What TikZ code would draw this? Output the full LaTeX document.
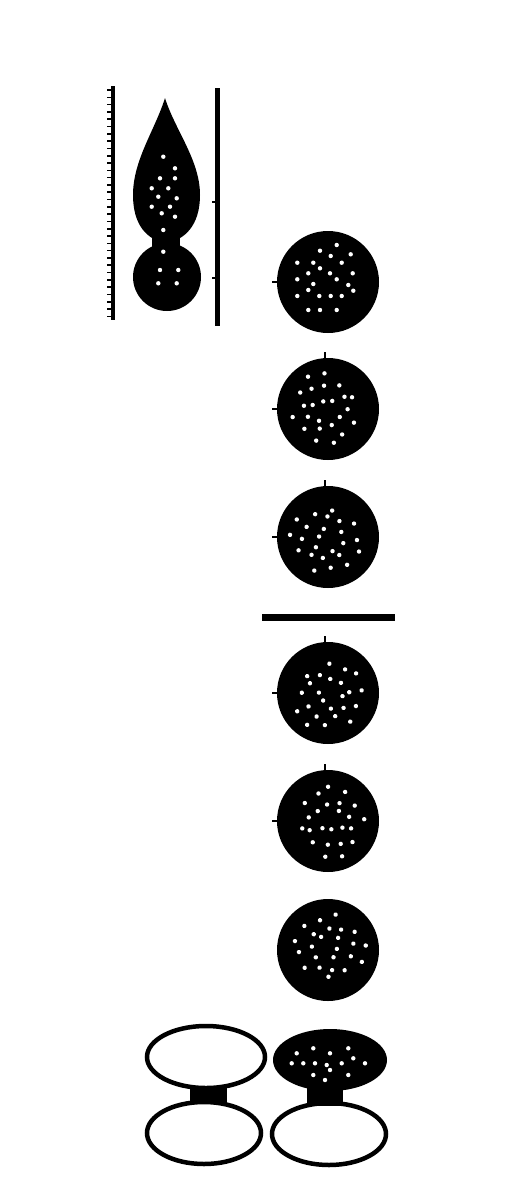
\documentclass[tikz,border=0pt]{standalone}
\usetikzlibrary{calc}
\begin{document}
\begin{tikzpicture}[x=1pt,y=-1pt]
\useasboundingbox[fill=white] (0,0) rectangle (527,1200);
\tikzset{
  bead/.style={circle,fill=black,minimum size=102pt,inner sep=0pt},
  wdot/.style={fill=white},
  bar/.style={line width=4pt},
  nub/.style={line width=2pt},
  ring/.style={draw=black,line width=4.5pt}
}
\def\dotlist{8.7/-37, -8/-31.3, 2.7/-26, 22.7/-27.7, -30.7/-19.3, -14.7/-19.3, -8/-13.7, 13.7/-19.3, -19.7/-8.7, 2/-8.7, 8.7/-2.7, 24.7/-8.7, -30.7/-2.7, -14.7/2, -19.7/8, 20.3/3, 25.3/8.7, -30.7/14, -8.7/14, 2.7/14, 13.7/14, -19.7/28, -8/28, 8.7/28}
% beads
\foreach \n/\cy/\ang in {c1/282/0, c2/409/45, c3/537/100, c4/693/160, c5/821/215, c6/950/290} {
  \node[bead] (\n) at (328,\cy) {};
  \begin{scope}[shift={(328,\cy)},rotate=\ang]
    \foreach \dx/\dy in \dotlist { \fill[wdot] (\dx,\dy) circle (2.2pt); }
  \end{scope}
}
\foreach \n in {c1,c2,c3,c4,c5} { \draw[nub] (\n.west) -- ++(-5,0); }
\foreach \n in {c2,c3,c4,c5} { \draw[nub] ([xshift=-3pt]\n.north) -- ++(0,-6); }
% separator line
\coordinate (sa) at (262,617);
\coordinate (sb) at (395,617);
\draw[line width=7pt] (sa) -- (sb);
% teardrop
\fill (165,98) .. controls (175,130) and (200,160) .. (200,195)
  .. controls (200,225) and (185,240) .. (166,243)
  .. controls (147,240) and (133,225) .. (133,195)
  .. controls (133,160) and (155,130) .. cycle;
\node[circle,fill=black,minimum size=68pt,inner sep=0pt] (lowbead) at (167,277) {};
\fill (152,236) rectangle (180,250);
\foreach \x/\y in {163.3/156.7,175/168.3,160/178.3,175/178.3,151.7/188.3,168.3/188.3,158.3/196.7,176.7/198.3,151.7/206.7,170/206.7,161.7/213.3,175/216.7,163.3/230,163.3/251.7,160/270,178.3/270,158.3/283.3,176.7/283.3}
  { \fill[wdot] (\x,\y) circle (2.2pt); }
% left ruler bar
\coordinate (la) at (113,86);
\coordinate (lb) at (113,320);
\draw[bar] (la) -- (lb);
\foreach \t in {0,...,31} { \draw[line width=1.6pt] (107,{90+7.3*\t}) -- (113,{90+7.3*\t}); }
% right bar
\coordinate (ra) at (217,88);
\coordinate (rb) at (217,326);
\draw[line width=5pt] (ra) -- (rb);
\foreach \y in {202,278} { \draw[line width=1.6pt] (212,\y) -- (217,\y); }
% bottom ellipses
\draw[ring] (206,1057) ellipse [x radius=59, y radius=31];
\draw[ring] (204,1133) ellipse [x radius=57, y radius=31];
\draw[ring] (329,1134) ellipse [x radius=57, y radius=31];
\fill (330,1060) ellipse [x radius=57, y radius=31];
\fill (190,1086) rectangle (227,1103);
\fill (307,1086) rectangle (343,1106);
\foreach \dx/\dy in {-33.3/-6.7, -16.7/-11.7, 0/-6.7, 18.3/-11.7, -38.3/3.3, -26.7/3.3, -15/3.3, -3.3/5, 11.7/3.3, 23.3/-1.7, 35/3.3, 0/10, -16.7/15, -5/20, 18.3/15}
  { \fill[wdot] ($(330,1060)+(\dx,\dy)$) circle (2.2pt); }
\end{tikzpicture}
\end{document}
